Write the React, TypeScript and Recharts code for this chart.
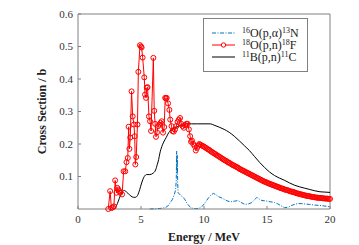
import {
  LineChart,
  Line,
  XAxis,
  YAxis,
  ReferenceLine,
} from "recharts";

// 16O(p,a)13N  [energy MeV, cross section b]
const oxygen16: Array<[number, number]> = [
  [5.7, 0], [6.2, 0.001], [6.6, 0.002], [6.9, 0.004], [7.1, 0.008], [7.3, 0.018],
  [7.5, 0.03], [7.65, 0.045], [7.75, 0.06], [7.8, 0.09], [7.83, 0.178], [7.86, 0.11],
  [7.88, 0.165], [7.91, 0.08], [7.95, 0.05], [8.05, 0.046], [8.2, 0.04], [8.35, 0.036],
  [8.5, 0.028], [8.65, 0.018], [8.8, 0.01], [9.0, 0.003], [9.3, 0.001], [9.6, 0.002],
  [9.9, 0.01], [10.1, 0.02], [10.35, 0.034], [10.55, 0.043], [10.75, 0.048], [10.95, 0.044],
  [11.15, 0.038], [11.35, 0.035], [11.6, 0.03], [11.9, 0.024], [12.1, 0.022], [12.4, 0.024],
  [12.7, 0.026], [12.95, 0.02], [13.25, 0.014], [13.55, 0.016], [13.8, 0.02], [14.05, 0.03],
  [14.2, 0.036], [14.4, 0.03], [14.6, 0.026], [14.9, 0.025], [15.3, 0.022], [15.6, 0.02],
  [15.85, 0.016], [16.1, 0.01], [16.4, 0.004], [16.7, 0.006], [16.95, 0.011], [17.25, 0.015],
  [17.5, 0.017], [17.9, 0.016], [18.4, 0.014], [18.8, 0.012], [19.2, 0.011], [19.6, 0.009],
  [20.0, 0.007],
];

// 18O(p,n)18F
const oxygen18: Array<[number, number]> = [
  [2.4, 0], [2.55, 0.055], [2.65, 0.003], [2.75, 0.005], [2.85, 0.008], [2.95, 0.088],
  [3.05, 0.05], [3.12, 0.065], [3.2, 0.06], [3.28, 0.055], [3.35, 0.05], [3.5, 0.045],
  [3.62, 0.116], [3.75, 0.116], [3.85, 0.144], [3.95, 0.157], [4.02, 0.253], [4.08, 0.185],
  [4.15, 0.22], [4.25, 0.362], [4.34, 0.285], [4.44, 0.26], [4.5, 0.224], [4.55, 0.137],
  [4.62, 0.16], [4.72, 0.26], [4.79, 0.422], [4.92, 0.504], [5.0, 0.5], [5.05, 0.497],
  [5.13, 0.466], [5.26, 0.405], [5.32, 0.352], [5.4, 0.342], [5.46, 0.373], [5.52, 0.375],
  [5.63, 0.285], [5.72, 0.27], [5.8, 0.24], [5.98, 0.465], [6.05, 0.302], [6.12, 0.262],
  [6.19, 0.222], [6.27, 0.236], [6.36, 0.255], [6.45, 0.26], [6.55, 0.265], [6.64, 0.27],
  [6.75, 0.235], [6.84, 0.252], [6.92, 0.342], [6.98, 0.34], [7.04, 0.342], [7.15, 0.325],
  [7.25, 0.305], [7.32, 0.275], [7.42, 0.255], [7.5, 0.24], [7.6, 0.238], [7.7, 0.245],
  [7.8, 0.255], [7.9, 0.268], [8.0, 0.275], [8.1, 0.28], [8.2, 0.262], [8.3, 0.255],
  [8.4, 0.25], [8.5, 0.258], [8.6, 0.262], [8.7, 0.262], [8.8, 0.245], [8.9, 0.224],
  [8.97, 0.207], [9.05, 0.21], [9.15, 0.2], [9.25, 0.194], [9.35, 0.18], [9.45, 0.188],
  [9.55, 0.195], [9.62, 0.2],
  [9.7, 0.198], [9.8, 0.196], [9.9, 0.194], [10.0, 0.192], [10.1, 0.189], [10.2, 0.187],
  [10.3, 0.184], [10.4, 0.182], [10.5, 0.179], [10.6, 0.176], [10.7, 0.174], [10.8, 0.171],
  [10.9, 0.169], [11.0, 0.166], [11.1, 0.164], [11.2, 0.161], [11.3, 0.159], [11.4, 0.156],
  [11.5, 0.154], [11.6, 0.151], [11.7, 0.149], [11.8, 0.147], [11.9, 0.144], [12.0, 0.142],
  [12.1, 0.14], [12.2, 0.137], [12.3, 0.135], [12.4, 0.133], [12.5, 0.131], [12.6, 0.129],
  [12.7, 0.127], [12.8, 0.124], [12.9, 0.122], [13.0, 0.12], [13.1, 0.118], [13.2, 0.116],
  [13.3, 0.114], [13.4, 0.112], [13.5, 0.11], [13.6, 0.108], [13.7, 0.106], [13.8, 0.104],
  [13.9, 0.102], [14.0, 0.1], [14.1, 0.098], [14.2, 0.096], [14.3, 0.094], [14.4, 0.092],
  [14.5, 0.09], [14.6, 0.088], [14.7, 0.086], [14.8, 0.084], [14.9, 0.083], [15.0, 0.081],
  [15.1, 0.079], [15.2, 0.078], [15.3, 0.076], [15.4, 0.075], [15.5, 0.073], [15.6, 0.072],
  [15.7, 0.07], [15.8, 0.069], [15.9, 0.067], [16.0, 0.066], [16.1, 0.064], [16.2, 0.063],
  [16.3, 0.062], [16.4, 0.06], [16.5, 0.059], [16.6, 0.058], [16.7, 0.057], [16.8, 0.055],
  [16.9, 0.054], [17.0, 0.053], [17.1, 0.052], [17.2, 0.051], [17.3, 0.049], [17.4, 0.048],
  [17.5, 0.047], [17.6, 0.046], [17.7, 0.045], [17.8, 0.044], [17.9, 0.043], [18.0, 0.042],
  [18.1, 0.041], [18.2, 0.04], [18.3, 0.04], [18.4, 0.039], [18.5, 0.038], [18.6, 0.037],
  [18.7, 0.037], [18.8, 0.036], [18.9, 0.035], [19.0, 0.035], [19.1, 0.034], [19.2, 0.034],
  [19.3, 0.034], [19.4, 0.033], [19.5, 0.033], [19.6, 0.032], [19.7, 0.032], [19.8, 0.032],
  [19.9, 0.031], [20.0, 0.031],
];

// 11B(p,n)11C
const boron11: Array<[number, number]> = [
  [2.9, 0], [3.05, 0.01], [3.2, 0.024], [3.35, 0.04], [3.47, 0.05], [3.6, 0.056],
  [3.7, 0.057], [3.85, 0.052], [4.0, 0.047], [4.2, 0.04], [4.4, 0.036], [4.55, 0.036],
  [4.73, 0.042], [4.9, 0.06], [5.05, 0.08], [5.26, 0.1], [5.45, 0.106], [5.7, 0.106],
  [5.95, 0.11], [6.16, 0.12], [6.3, 0.138], [6.4, 0.152], [6.5, 0.172], [6.65, 0.192],
  [6.8, 0.206], [7.0, 0.22], [7.2, 0.235], [7.4, 0.243], [7.7, 0.25], [8.0, 0.255],
  [8.3, 0.259], [8.6, 0.262], [9.0, 0.262], [9.5, 0.262], [10.0, 0.262], [10.5, 0.262],
  [10.8, 0.258], [11.2, 0.252], [11.6, 0.245], [12.0, 0.236], [12.4, 0.224], [12.8, 0.21],
  [13.2, 0.195], [13.6, 0.18], [14.0, 0.162], [14.4, 0.144], [14.8, 0.128], [15.2, 0.114],
  [15.6, 0.103], [16.0, 0.095], [16.4, 0.088], [16.8, 0.08], [17.2, 0.073], [17.6, 0.068],
  [18.0, 0.064], [18.4, 0.06], [18.8, 0.056], [19.2, 0.053], [19.6, 0.052], [20.0, 0.051],
];

const xTicks = [0, 5, 10, 15, 20];
const yTicks = [0.1, 0.2, 0.3, 0.4, 0.5, 0.6];

const toRows = (pts: Array<[number, number]>) => pts.map(([e, v]) => ({ e, v }));

const FONT = "'Liberation Serif', 'Times New Roman', serif";
const BLUE = "#0072BD";
const RED = "#ff0000";
const FRAME = "#808080";

// legend drawn as its own little svg sitting over the plot
const LegendBox = () => {
  const rows = [
    { y: 15, sample: "blue", pre: "16", body: "O(p,α)", post: "13", tail: "N" },
    { y: 27, sample: "red", pre: "18", body: "O(p,n)", post: "18", tail: "F" },
    { y: 39, sample: "black", pre: "11", body: "B(p,n)", post: "11", tail: "C" },
  ];
  return (
    <svg
      width={105}
      height={54}
      style={{ position: "absolute", left: 203, top: 18, fontFamily: FONT }}
    >
      <rect x={0.5} y={0.5} width={104} height={53} fill="#fff" stroke={FRAME} />
      {rows.map((r) => (
        <g key={r.sample}>
          {r.sample === "blue" && (
            <line x1={9} x2={32} y1={r.y} y2={r.y} stroke={BLUE} strokeDasharray="4 1.5 1 1.5" />
          )}
          {r.sample === "red" && (
            <>
              <line x1={9} x2={32} y1={r.y} y2={r.y} stroke={RED} />
              <circle cx={20.5} cy={r.y} r={2.2} fill="#fff" stroke={RED} />
            </>
          )}
          {r.sample === "black" && (
            <line x1={9} x2={32} y1={r.y} y2={r.y} stroke="#000" />
          )}
          <text x={39} y={r.y + 4} fontSize={12} fill="#222" fontFamily={FONT}>
            <tspan fontSize={8} baselineShift="super">{r.pre}</tspan>
            <tspan>{r.body}</tspan>
            <tspan fontSize={8} baselineShift="super">{r.post}</tspan>
            <tspan>{r.tail}</tspan>
          </text>
        </g>
      ))}
    </svg>
  );
};

export default function App() {
  const tickStyle = { fontFamily: FONT, fontSize: 11, fill: "#333" };
  return (
    <div
      style={{
        position: "fixed",
        left: 0,
        top: 0,
        width: 359,
        height: 245,
        background: "#fff",
        fontFamily: FONT,
      }}
    >
      <LineChart
        width={359}
        height={245}
        margin={{ top: 14, right: 29, bottom: 0, left: 0 }}
        style={{ fontFamily: FONT }}
      >
        <XAxis
          dataKey="e"
          type="number"
          domain={[0, 20]}
          ticks={xTicks}
          height={36}
          stroke={FRAME}
          tickSize={-3}
          tickMargin={9}
          tick={tickStyle}
          allowDuplicatedCategory={false}
          label={{
            value: "Energy / MeV",
            position: "insideBottom",
            offset: 4,
            fontFamily: FONT,
            style: { fontFamily: FONT, fontSize: 12, fontWeight: "bold", fill: "#222" },
          }}
        />
        <YAxis
          type="number"
          domain={[0, 0.6]}
          ticks={yTicks}
          width={78}
          stroke={FRAME}
          tickSize={-3}
          tickMargin={8}
          tick={tickStyle}
          label={{
            value: "Cross Section / b",
            angle: -90,
            position: "insideLeft",
            offset: 42,
            fontFamily: FONT,
            style: {
              fontFamily: FONT,
              fontSize: 12,
              fontWeight: "bold",
              fill: "#222",
              textAnchor: "middle",
            },
          }}
        />
        <ReferenceLine y={0.6} stroke={FRAME} />
        <ReferenceLine x={20} stroke={FRAME} />
        <Line
          data={toRows(oxygen16)}
          dataKey="v"
          type="linear"
          stroke={BLUE}
          strokeWidth={1}
          strokeDasharray="4 1.5 1 1.5"
          dot={false}
          isAnimationActive={false}
        />
        <Line
          data={toRows(boron11)}
          dataKey="v"
          type="monotone"
          stroke="#000"
          strokeWidth={1}
          dot={false}
          isAnimationActive={false}
        />
        <Line
          data={toRows(oxygen18)}
          dataKey="v"
          type="linear"
          stroke={RED}
          strokeWidth={1}
          dot={{ r: 2.5, fill: "none", stroke: RED, strokeWidth: 1 }}
          isAnimationActive={false}
        />
      </LineChart>
      <LegendBox />
    </div>
  );
}
